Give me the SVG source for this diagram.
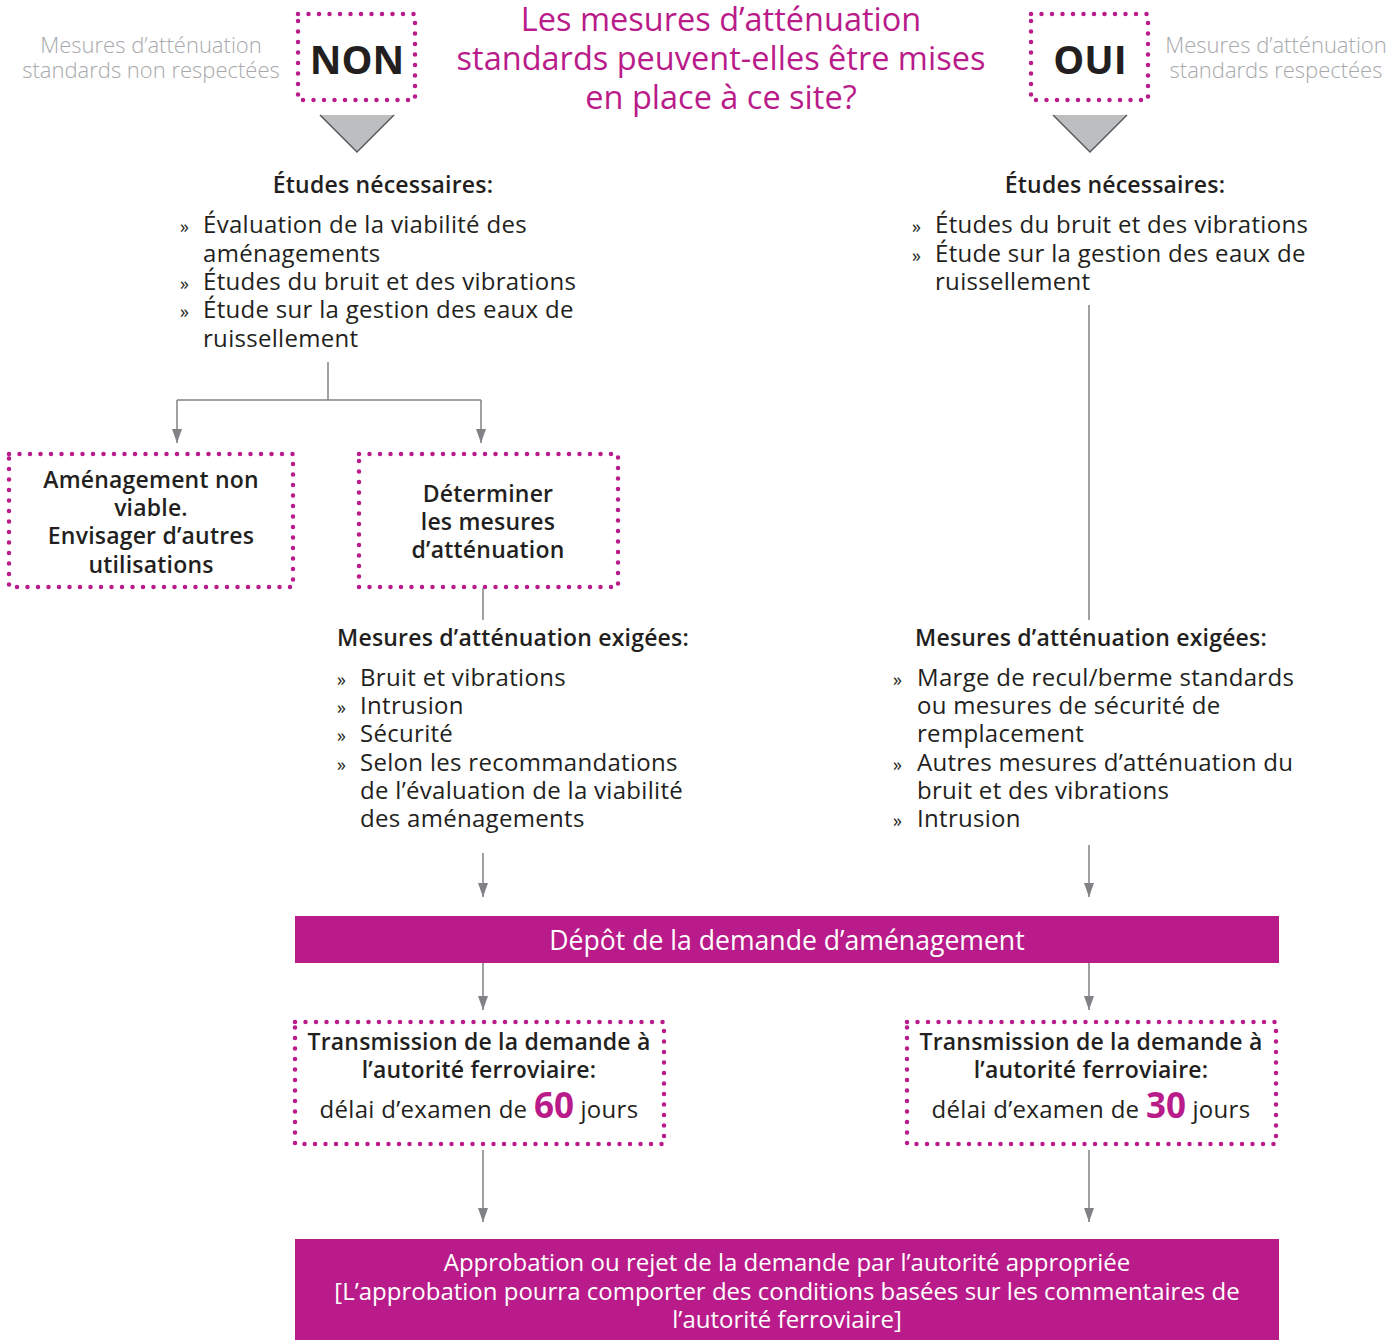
<svg xmlns="http://www.w3.org/2000/svg" width="1387" height="1340" viewBox="0 0 1387 1340">
<style>
text{font-family:"Open Sans","Noto Sans",sans-serif;fill:#231f20}
.t{font-size:24px;letter-spacing:0.3px}
.bu{font-size:18px}
.b{font-size:23px;font-weight:600;letter-spacing:0.2px}
.g{font-size:22px;font-weight:300;fill:#a7a9ac}
.ti{font-size:32.5px;fill:#b91c8a}
.big{font-size:39px;font-weight:700}
.w{fill:#fff}
.c{text-anchor:middle}
.dot{fill:none;stroke:#b91c8a;stroke-width:4.5;stroke-linecap:round;stroke-dasharray:0 10.5}
.bar{fill:#b91c8a}
.ln{fill:none;stroke:#808285;stroke-width:1.5}
.tri{fill:#bcbec0}
.tre{fill:none;stroke:#58595b;stroke-width:1.5}
.n{font-size:35px;font-weight:700;fill:#b91c8a;letter-spacing:0}
</style>
<defs>
<marker id="ah" viewBox="0 0 14 10" refX="14" refY="5" markerWidth="14" markerHeight="10" markerUnits="userSpaceOnUse" orient="auto">
<path d="M0,0 L14,5 L0,10 z" fill="#808285"/>
</marker>
</defs>

<g id="title">
<text class="ti c" x="721" y="31">Les mesures d’atténuation</text>
<text class="ti c" x="721" y="70">standards peuvent-elles être mises</text>
<text class="ti c" x="721" y="109">en place à ce site?</text>
</g>

<g id="non-label">
<text class="g c" x="151" y="53">Mesures d’atténuation</text>
<text class="g c" x="151" y="78">standards non respectées</text>
</g>
<g id="non">
<rect class="dot" x="298" y="14" width="117" height="86"/>
<text class="big c" x="357" y="74">NON</text>
<polygon class="tri" points="320,115 394,115 357,152"/>
<polyline class="tre" points="320,115 357,152 394,115"/>
</g>

<g id="oui-label">
<text class="g c" x="1276" y="53">Mesures d’atténuation</text>
<text class="g c" x="1276" y="78">standards respectées</text>
</g>
<g id="oui">
<rect class="dot" x="1031" y="14" width="117" height="86"/>
<text class="big c" x="1090" y="74">OUI</text>
<polygon class="tri" points="1053,115 1127,115 1090,152"/>
<polyline class="tre" points="1053,115 1090,152 1127,115"/>
</g>

<g id="etudes-non">
<text class="b c" x="383" y="193">Études nécessaires:</text>
<text class="bu" x="180" y="233">»</text>
<text class="t" x="203" y="233">Évaluation de la viabilité des</text>
<text class="t" x="203" y="262">aménagements</text>
<text class="bu" x="180" y="290">»</text>
<text class="t" x="203" y="290">Études du bruit et des vibrations</text>
<text class="bu" x="180" y="318">»</text>
<text class="t" x="203" y="318">Étude sur la gestion des eaux de</text>
<text class="t" x="203" y="347">ruissellement</text>
</g>

<g id="etudes-oui">
<text class="b c" x="1115" y="193">Études nécessaires:</text>
<text class="bu" x="912" y="233">»</text>
<text class="t" x="935" y="233">Études du bruit et des vibrations</text>
<text class="bu" x="912" y="262">»</text>
<text class="t" x="935" y="262">Étude sur la gestion des eaux de</text>
<text class="t" x="935" y="290">ruissellement</text>
</g>

<g id="non-viable">
<rect class="dot" x="9" y="454" width="284" height="133"/>
<text class="b c" x="151" y="488">Aménagement non</text>
<text class="b c" x="151" y="516">viable.</text>
<text class="b c" x="151" y="544">Envisager d’autres</text>
<text class="b c" x="151" y="573">utilisations</text>
</g>

<g id="determiner">
<rect class="dot" x="359" y="454" width="259" height="133"/>
<text class="b c" x="488" y="502">Déterminer</text>
<text class="b c" x="488" y="530">les mesures</text>
<text class="b c" x="488" y="558">d’atténuation</text>
</g>

<g id="mesures-non">
<text class="b c" x="513" y="646">Mesures d’atténuation exigées:</text>
<text class="bu" x="337" y="686">»</text>
<text class="t" x="360" y="686">Bruit et vibrations</text>
<text class="bu" x="337" y="714">»</text>
<text class="t" x="360" y="714">Intrusion</text>
<text class="bu" x="337" y="742">»</text>
<text class="t" x="360" y="742">Sécurité</text>
<text class="bu" x="337" y="771">»</text>
<text class="t" x="360" y="771">Selon les recommandations</text>
<text class="t" x="360" y="799">de l’évaluation de la viabilité</text>
<text class="t" x="360" y="827">des aménagements</text>
</g>

<g id="mesures-oui">
<text class="b c" x="1091" y="646">Mesures d’atténuation exigées:</text>
<text class="bu" x="893" y="686">»</text>
<text class="t" x="917" y="686">Marge de recul/berme standards</text>
<text class="t" x="917" y="714">ou mesures de sécurité de</text>
<text class="t" x="917" y="742">remplacement</text>
<text class="bu" x="893" y="771">»</text>
<text class="t" x="917" y="771">Autres mesures d’atténuation du</text>
<text class="t" x="917" y="799">bruit et des vibrations</text>
<text class="bu" x="893" y="827">»</text>
<text class="t" x="917" y="827">Intrusion</text>
</g>

<g id="depot">
<rect class="bar" x="295" y="916" width="984" height="47"/>
<text class="w c" x="787" y="950" font-size="26.6">Dépôt de la demande d’aménagement</text>
</g>

<g id="transmission-60">
<rect class="dot" x="295" y="1022" width="369" height="122"/>
<text class="b c" x="479" y="1050">Transmission de la demande à</text>
<text class="b c" x="479" y="1078">l’autorité ferroviaire:</text>
<text class="t c" x="479" y="1118">délai d’examen de <tspan class="n">60</tspan> jours</text>
</g>

<g id="transmission-30">
<rect class="dot" x="907" y="1022" width="369" height="122"/>
<text class="b c" x="1091" y="1050">Transmission de la demande à</text>
<text class="b c" x="1091" y="1078">l’autorité ferroviaire:</text>
<text class="t c" x="1091" y="1118">délai d’examen de <tspan class="n">30</tspan> jours</text>
</g>

<g id="approbation">
<rect class="bar" x="295" y="1239" width="984" height="101"/>
<text class="w c" font-size="24" x="787" y="1271">Approbation ou rejet de la demande par l’autorité appropriée</text>
<text class="w c" font-size="24" x="787" y="1300">[L’approbation pourra comporter des conditions basées sur les commentaires de</text>
<text class="w c" font-size="24" x="787" y="1328">l’autorité ferroviaire]</text>
</g>

<g id="connectors">
<path class="ln" d="M328,362 V400 M177,400 H481"/>
<path class="ln" d="M177,400 V443" marker-end="url(#ah)"/>
<path class="ln" d="M481,400 V443" marker-end="url(#ah)"/>
<path class="ln" d="M483,588 V620"/>
<path class="ln" d="M1089,305 V620"/>
<path class="ln" d="M483,853 V897" marker-end="url(#ah)"/>
<path class="ln" d="M1089,845 V897" marker-end="url(#ah)"/>
<path class="ln" d="M483,963 V1010" marker-end="url(#ah)"/>
<path class="ln" d="M1089,963 V1010" marker-end="url(#ah)"/>
<path class="ln" d="M483,1150 V1222" marker-end="url(#ah)"/>
<path class="ln" d="M1089,1150 V1222" marker-end="url(#ah)"/>
</g>
</svg>
